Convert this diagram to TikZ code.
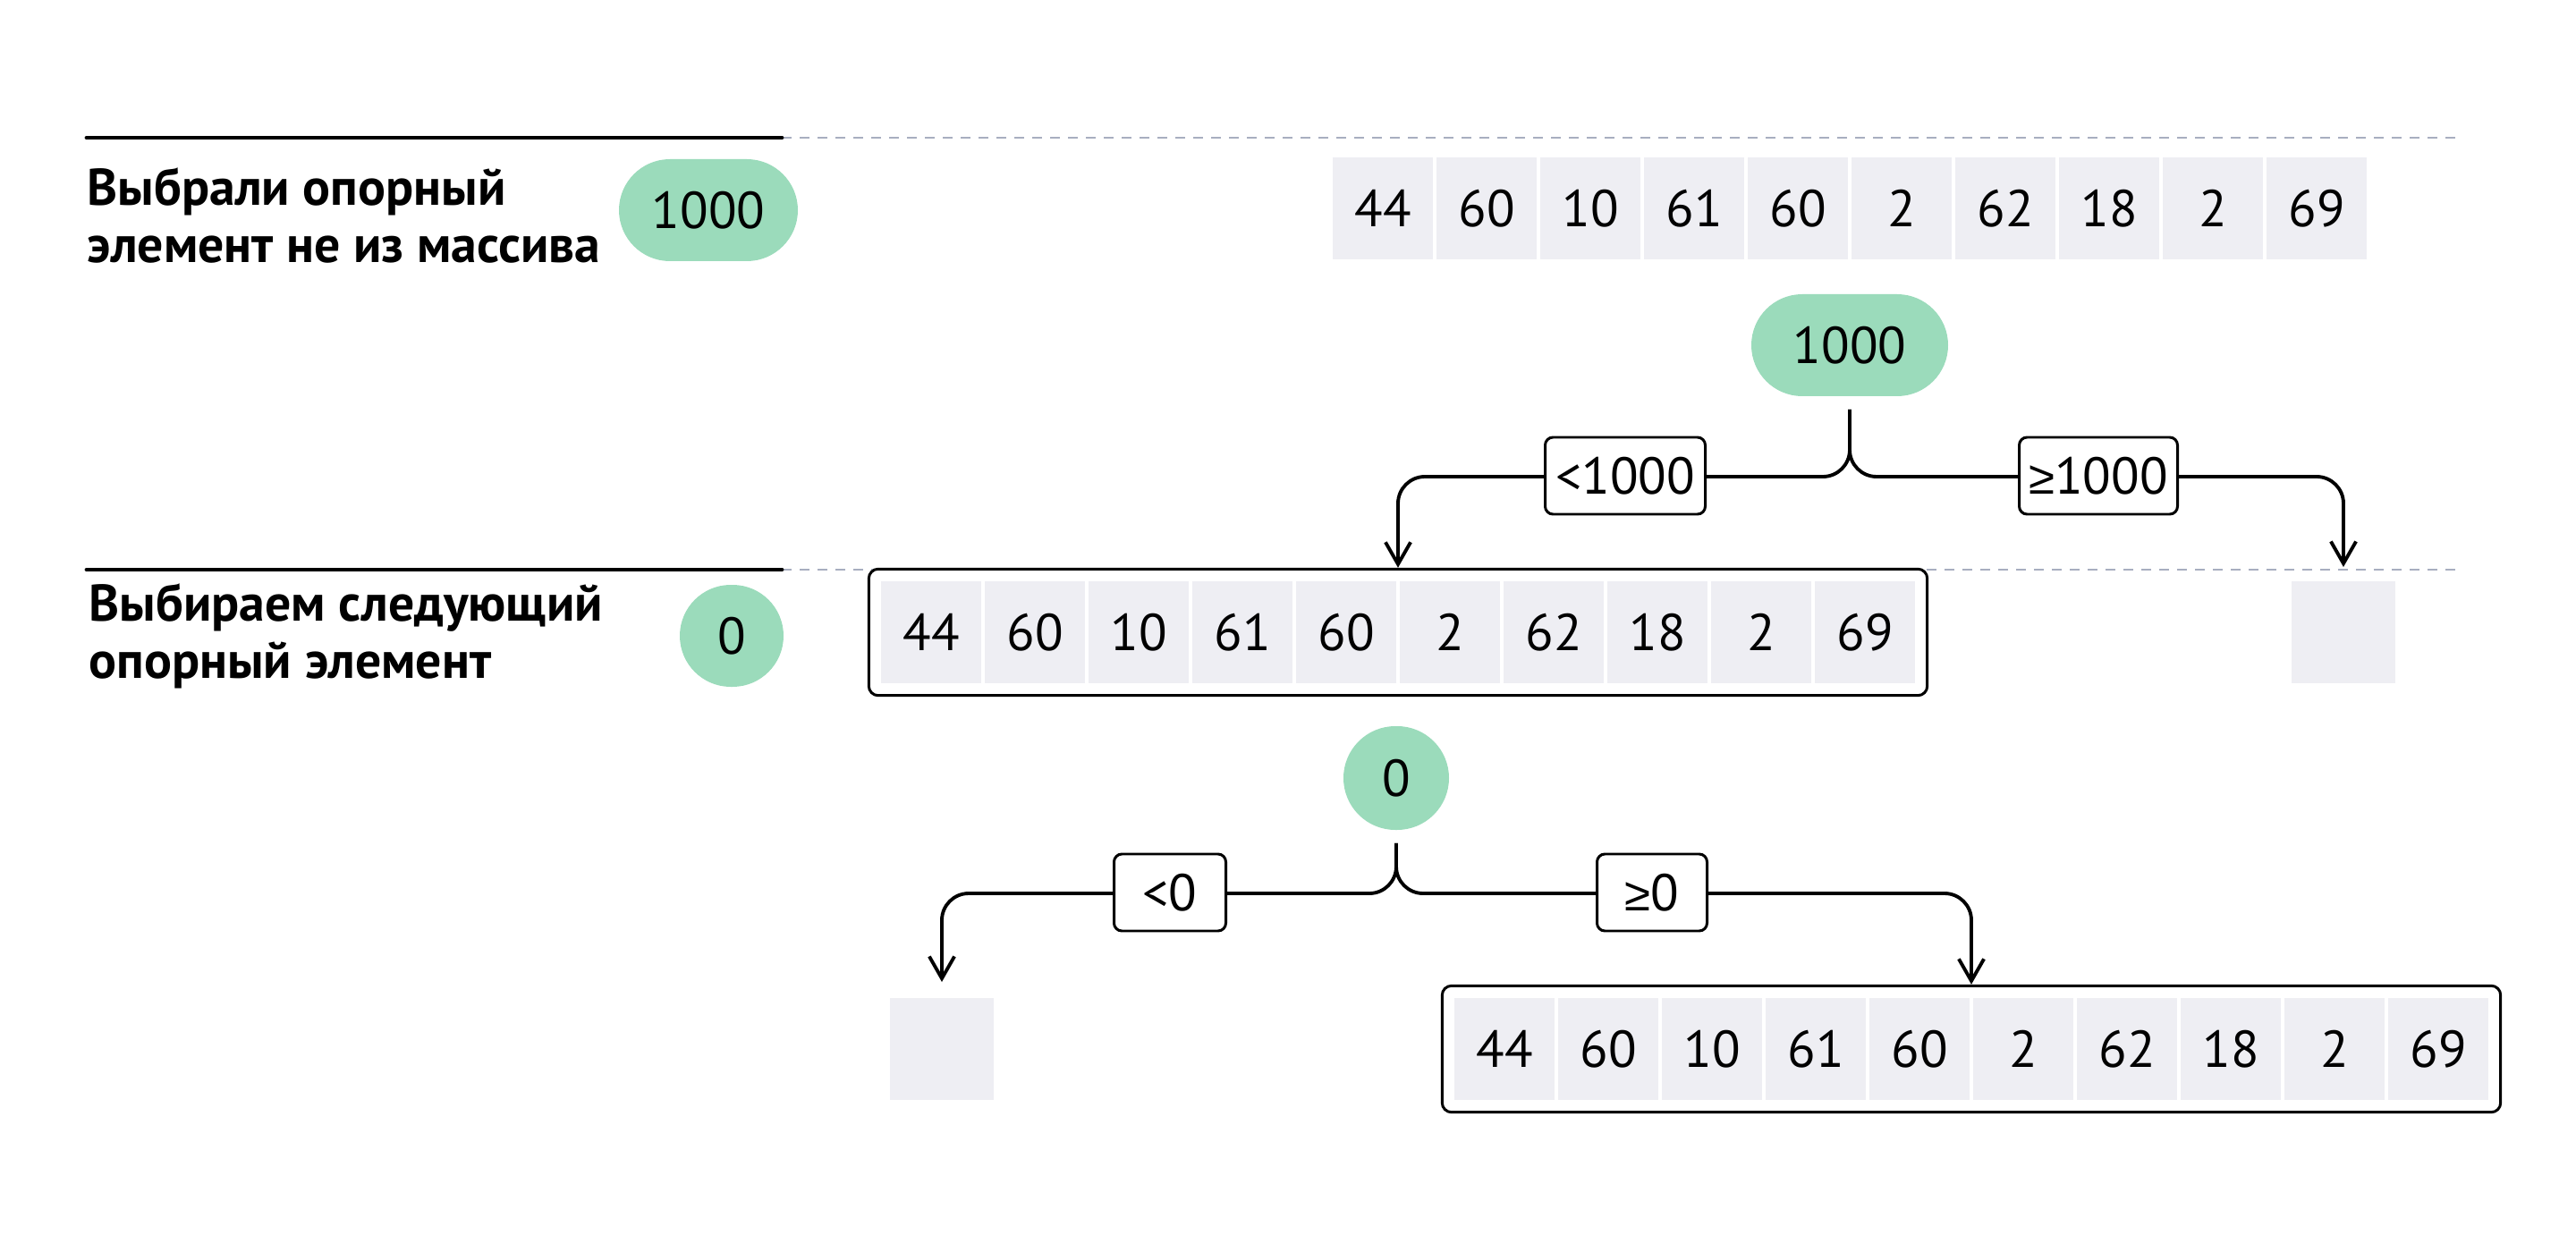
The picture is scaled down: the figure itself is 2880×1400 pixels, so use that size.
\documentclass[tikz,border=0pt]{standalone}
\usepackage{fontspec}
\setmainfont{PT Sans}
\newfontfamily\symf{Liberation Sans}
\usetikzlibrary{arrows.meta,shapes.misc,fit}
\newlength\pxu \setlength\pxu{0.01cm}
\definecolor{pivotgreen}{RGB}{155,219,187}
\definecolor{cellgray}{RGB}{238,238,243}
\definecolor{guidegray}{RGB}{168,174,192}
\begin{document}
\begin{tikzpicture}[x=0.01cm,y=-0.01cm,
  num/.style={font=\fontsize{16.5}{20}\selectfont},
  cell/.style={num, fill=cellgray, minimum width=112\pxu, minimum height=114\pxu, inner sep=0pt},
  pivot/.style={num, rounded rectangle, fill=pivotgreen, minimum height=114\pxu, inner sep=0pt},
  cond/.style={num, draw, line width=0.85pt, fill=white, rounded corners=2.5pt, minimum height=86\pxu, inner sep=0pt},
  arrbox/.style={draw, line width=0.85pt, rounded corners=3pt, inner sep=13\pxu},
  heading/.style={font=\bfseries\fontsize{16.4}{18.2}\selectfont, align=left, anchor=west, inner sep=0pt},
  rule/.style={line width=1.4pt, line cap=round},
  guide/.style={guidegray, line width=0.85pt, dash pattern=on 11\pxu off 9\pxu},
  branch/.style={line width=1.1pt, rounded corners=0.3cm, shorten <=4pt, -{Straight Barb[length=7pt,width=8pt]}},
]
\useasboundingbox (0,0) rectangle (2880,1400);

% section rules and guide lines
\coordinate (r1a) at (97,154);  \coordinate (r1b) at (874,154); \coordinate (r1c) at (2750,154);
\coordinate (r2a) at (97,637);  \coordinate (r2b) at (874,637); \coordinate (r2c) at (2750,637);
\draw[guide] (r1b) -- (r1c);
\draw[guide] (r2b) -- (r2c);
\draw[rule] (r1a) -- (r1b);
\draw[rule] (r2a) -- (r2b);

% headings
\node[heading] (h1) at (97,241) {Выбрали опорный\\элемент не из массива};
\node[heading] (h2) at (99,711) {Выбираем следующий\\опорный элемент};

% pivots shown next to the headings
\node[pivot, minimum width=200\pxu] (hp1) at (792,235) {1000};
\node[pivot, minimum width=116\pxu] (hp2) at (818,711) {0};

% top array
\foreach \v [count=\i] in {44,60,10,61,60,2,62,18,2,69}
  \node[cell] (t\i) at ({1546+(\i-1)*116},233) {\v};

% first partition
\node[pivot, minimum width=220\pxu] (p1) at (2068,386) {1000};
\coordinate (j1) at (2068,533);

\foreach \v [count=\i] in {44,60,10,61,60,2,62,18,2,69}
  \node[cell] (m\i) at ({1041+(\i-1)*116},707) {\v};
\node[arrbox, fit=(m1)(m10)] (mbox) {};
\node[cell, minimum width=116\pxu] (mr) at (2620,707) {};
\coordinate (mrin) at (2620,634);

\draw[branch] (p1.south) -- (j1) -| (mbox.north);
\draw[branch] (p1.south) -- (j1) -| (mrin);
\node[cond, minimum width=179\pxu] (c1) at (1817,532) {<1000};
\node[cond, minimum width=177\pxu] (c2) at (2346,532) {{\symf\fontsize{15}{20}\selectfont ≥}1000};

% second partition
\node[pivot, minimum width=118\pxu, minimum height=116\pxu] (p2) at (1561,870) {0};
\coordinate (j2) at (1561,999);

\node[cell, minimum width=116\pxu] (bl) at (1053,1173) {};
\coordinate (blin) at (1053,1098);
\foreach \v [count=\i] in {44,60,10,61,60,2,62,18,2,69}
  \node[cell] (b\i) at ({1682+(\i-1)*116},1173) {\v};
\node[arrbox, fit=(b1)(b10)] (bbox) {};

\draw[branch] (p2.south) -- (j2) -| (blin);
\draw[branch] (p2.south) -- (j2) -| (bbox.north);
\node[cond, minimum width=125\pxu] (c3) at (1308,998) {<0};
\node[cond, minimum width=123\pxu] (c4) at (1847,998) {{\symf\fontsize{15}{20}\selectfont ≥}0};
\end{tikzpicture}
\end{document}
